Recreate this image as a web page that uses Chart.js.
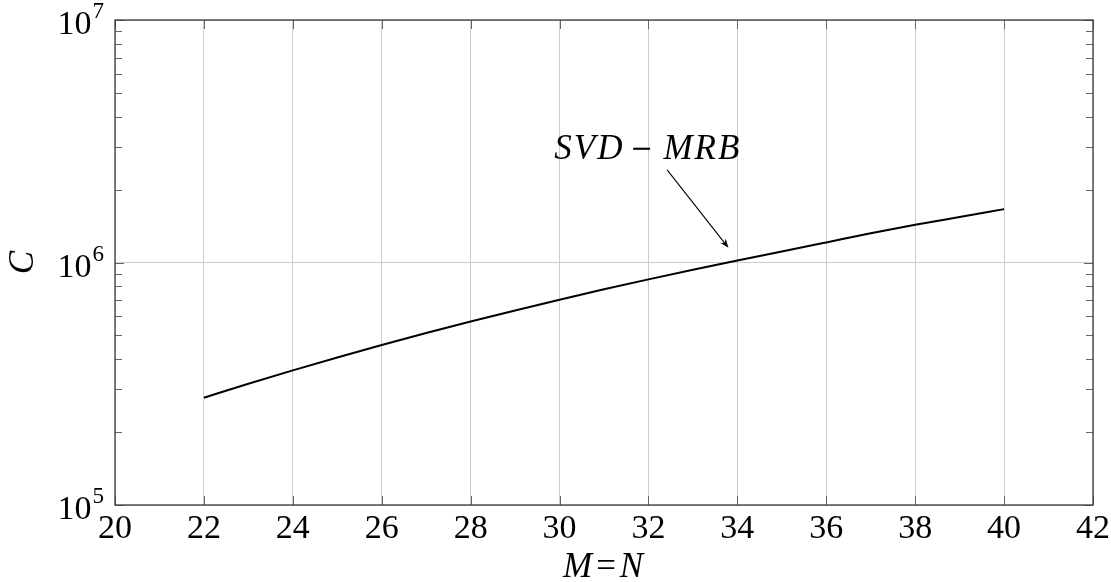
<!DOCTYPE html>
<html>
<head>
<meta charset="utf-8">
<title>SVD-MRB cost</title>
<script src="https://cdn.jsdelivr.net/npm/chart.js@4.4.1/dist/chart.umd.min.js"></script>
<style>
  html, body { margin: 0; padding: 0; background: #ffffff; }
  #wrap { width: 1111px; height: 582px; position: relative; }
</style>
</head>
<body>
<div id="wrap"><canvas id="c" width="1111" height="582"></canvas></div>
<script>
// Matrix size M = N
const sizes = [22, 23, 24, 25, 26, 27, 28, 29, 30, 31, 32, 33, 34, 35, 36, 37, 38, 39, 40];
// Complexity C of SVD-MRB
const costSVDMRB = [2.77e5, 3.16e5, 3.59e5, 4.06e5, 4.57e5, 5.12e5, 5.71e5, 6.34e5, 7.02e5,
                    7.75e5, 8.52e5, 9.34e5, 1.02e6, 1.11e6, 1.21e6, 1.32e6, 1.43e6, 1.54e6, 1.66e6];
// Axis tick labels
const xTicks = [20, 22, 24, 26, 28, 30, 32, 34, 36, 38, 40, 42];
const yDecades = [5, 6, 7];
const seriesLabel = ['SVD', 'MRB'];
// Label anchor and arrow (data coordinates)
const labelAt = [32, 3.0e6];
const arrowFrom = [32.42, 2.41e6];
const arrowTo = [33.8, 1.15e6];

const SERIF = '"Liberation Serif", "DejaVu Serif", serif';

const decorations = {
  id: 'decorations',
  afterDraw(chart) {
    const ctx = chart.ctx;
    const a = chart.chartArea;
    const xs = chart.scales.x, ys = chart.scales.y;
    ctx.save();

    // tick marks (inward, all four sides)
    ctx.strokeStyle = '#666';
    ctx.lineWidth = 1;
    ctx.beginPath();
    xTicks.forEach(v => {
      const px = Math.round(xs.getPixelForValue(v)) + 0.5;
      ctx.moveTo(px, a.bottom); ctx.lineTo(px, a.bottom - 9);
      ctx.moveTo(px, a.top); ctx.lineTo(px, a.top + 9);
    });
    yDecades.forEach((d, i) => {
      const py = Math.round(ys.getPixelForValue(Math.pow(10, d))) + 0.5;
      ctx.moveTo(a.left, py); ctx.lineTo(a.left + 9, py);
      ctx.moveTo(a.right, py); ctx.lineTo(a.right - 9, py);
      if (i < yDecades.length - 1) {
        for (let m = 2; m <= 9; m++) {
          const pm = Math.round(ys.getPixelForValue(m * Math.pow(10, d))) + 0.5;
          ctx.moveTo(a.left, pm); ctx.lineTo(a.left + 7, pm);
          ctx.moveTo(a.right, pm); ctx.lineTo(a.right - 7, pm);
        }
      }
    });
    ctx.stroke();

    // frame
    ctx.strokeStyle = '#3a3a3a';
    ctx.lineWidth = 1.3;
    ctx.strokeRect(a.left, a.top, a.right - a.left, a.bottom - a.top);

    ctx.fillStyle = '#000';
    // x tick labels
    ctx.font = '34px ' + SERIF;
    ctx.textAlign = 'center';
    ctx.textBaseline = 'alphabetic';
    xTicks.forEach(v => {
      ctx.fillText(String(v), xs.getPixelForValue(v), a.bottom + 33);
    });

    // y tick labels: 10^d
    yDecades.forEach(d => {
      const py = ys.getPixelForValue(Math.pow(10, d));
      ctx.font = '23px ' + SERIF;
      ctx.textAlign = 'right';
      const supW = ctx.measureText(String(d)).width;
      ctx.fillText(String(d), 104, py - 2);
      ctx.font = '34px ' + SERIF;
      ctx.fillText('10', 104 - supW - 1, py + 14);
    });

    // axis titles
    ctx.font = 'italic 35px ' + SERIF;
    ctx.textAlign = 'center';
    ctx.letterSpacing = '2px';
    ctx.fillText('M=N', (a.left + a.right) / 2, a.bottom + 72);
    ctx.letterSpacing = '0px';
    ctx.save();
    ctx.translate(33, (a.top + a.bottom) / 2);
    ctx.rotate(-Math.PI / 2);
    ctx.fillText('C', 0, 0);
    ctx.restore();

    // series label
    const lx = xs.getPixelForValue(labelAt[0]);
    const ly = ys.getPixelForValue(labelAt[1]);
    ctx.font = 'italic 35px ' + SERIF;
    ctx.letterSpacing = '2px';
    ctx.textAlign = 'right';
    ctx.fillText(seriesLabel[0], lx - 24, ly + 12);
    ctx.textAlign = 'left';
    ctx.fillText(seriesLabel[1], lx + 15, ly + 12);
    ctx.letterSpacing = '0px';
    ctx.font = '27px "DejaVu Serif", serif';
    ctx.textAlign = 'center';
    ctx.fillText('\u2212', lx - 7, ly + 10);

    // arrow
    const x1 = xs.getPixelForValue(arrowFrom[0]), y1 = ys.getPixelForValue(arrowFrom[1]);
    const x2 = xs.getPixelForValue(arrowTo[0]), y2 = ys.getPixelForValue(arrowTo[1]);
    const ang = Math.atan2(y2 - y1, x2 - x1);
    ctx.strokeStyle = '#000';
    ctx.lineWidth = 1.1;
    ctx.beginPath();
    ctx.moveTo(x1, y1);
    ctx.lineTo(x2 - 6 * Math.cos(ang), y2 - 6 * Math.sin(ang));
    ctx.stroke();
    ctx.beginPath();
    ctx.moveTo(x2, y2);
    ctx.lineTo(x2 - 9 * Math.cos(ang) + 3.5 * Math.sin(ang), y2 - 9 * Math.sin(ang) - 3.5 * Math.cos(ang));
    ctx.lineTo(x2 - 6 * Math.cos(ang), y2 - 6 * Math.sin(ang));
    ctx.lineTo(x2 - 9 * Math.cos(ang) - 3.5 * Math.sin(ang), y2 - 9 * Math.sin(ang) + 3.5 * Math.cos(ang));
    ctx.closePath();
    ctx.fillStyle = '#000';
    ctx.fill();

    ctx.restore();
  }
};

new Chart(document.getElementById('c'), {
  type: 'line',
  data: {
    datasets: [{
      label: seriesLabel.join(' - '),
      data: sizes.map((m, i) => ({ x: m, y: costSVDMRB[i] })),
      borderColor: '#000',
      borderWidth: 2,
      pointRadius: 0,
      cubicInterpolationMode: 'monotone',
      fill: false
    }]
  },
  options: {
    responsive: false,
    animation: false,
    devicePixelRatio: 1,
    layout: { padding: { left: 115, right: 18, top: 20, bottom: 77 } },
    plugins: { legend: { display: false }, tooltip: { enabled: false } },
    scales: {
      x: {
        type: 'linear',
        min: 20, max: 42,
        ticks: { display: false, stepSize: 2 },
        afterBuildTicks: s => { s.ticks = xTicks.map(v => ({ value: v })); },
        afterFit: s => { s.height = 0; },
        grid: { color: '#cccccc', lineWidth: 1, drawTicks: false },
        border: { display: false }
      },
      y: {
        type: 'logarithmic',
        min: 1e5, max: 1e7,
        ticks: { display: false },
        afterBuildTicks: s => { s.ticks = yDecades.map(d => ({ value: Math.pow(10, d), major: true })); },
        afterFit: s => { s.width = 0; },
        grid: { color: '#cccccc', lineWidth: 1, drawTicks: false },
        border: { display: false }
      }
    }
  },
  plugins: [decorations]
});
</script>
</body>
</html>
